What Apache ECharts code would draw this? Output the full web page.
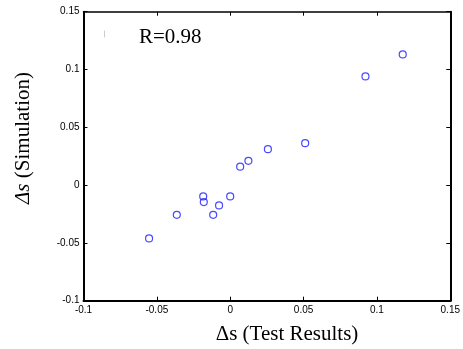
<!DOCTYPE html>
<html><head><meta charset="utf-8">
<script src="https://cdn.jsdelivr.net/npm/echarts@6/dist/echarts.min.js"></script>
<style>html,body{margin:0;padding:0;background:#fff}#c{width:463px;height:349px}</style>
</head><body><div id="c"></div>
<script>
const testResults = [-0.0553, -0.0364, -0.0184, -0.0180, -0.0116, -0.0076, 0.0000, 0.0068, 0.0124, 0.0257, 0.0511, 0.0922, 0.1176];
const simulation  = [-0.0461, -0.0257, -0.0098, -0.0147, -0.0257, -0.0176, -0.0098, 0.0159, 0.0210, 0.0311, 0.0363, 0.0940, 0.1130];
const xTicks = [-0.1, -0.05, 0, 0.05, 0.1, 0.15];
const yTicks = [-0.1, -0.05, 0, 0.05, 0.1, 0.15];
const annotation = 'R=0.98';

const fmt = v => { const r = Math.round(v*1000)/1000; return String(r); };
const chart = echarts.init(document.getElementById('c'), null, {renderer:'canvas'});
const axisBase = {
  min: xTicks[0], max: xTicks[xTicks.length-1], interval: 0.05,
  splitLine:{show:false},
  axisLine:{show:true, onZero:false, lineStyle:{color:'#000', width:2}},
  axisTick:{show:true, inside:true, length:4, lineStyle:{color:'#000', width:1}},
};
chart.setOption({
  animation:false,
  grid:{left:83.5, right:9, top:11.7, bottom:48.3, containLabel:false},
  xAxis:[
    Object.assign({}, axisBase, {type:'value', position:'bottom',
      axisLabel:{show:true, margin:5, fontFamily:'Liberation Sans', fontSize:10, color:'#000', formatter:fmt, showMinLabel:true, showMaxLabel:true}}),
    Object.assign({}, axisBase, {type:'value', position:'top', axisLabel:{show:false}, axisLine:{show:true, onZero:false, lineStyle:{color:'#000', width:1.5}}})
  ],
  yAxis:[
    Object.assign({}, axisBase, {type:'value', position:'left', min: yTicks[0], max: yTicks[yTicks.length-1],
      axisLabel:{show:true, margin:4, fontFamily:'Liberation Sans', fontSize:10, color:'#000', formatter:fmt, showMinLabel:true, showMaxLabel:true}}),
    Object.assign({}, axisBase, {type:'value', position:'right', min: yTicks[0], max: yTicks[yTicks.length-1], axisLabel:{show:false}})
  ],
  series:[{
    type:'scatter', xAxisIndex:0, yAxisIndex:0,
    data: testResults.map((x,i)=>[x, simulation[i]]),
    symbol:'circle', symbolSize:7,
    itemStyle:{color:'rgba(0,0,0,0)', borderColor:'#1c1cff', borderWidth:1.2}
  }],
  graphic:[
    {type:'text', left:139, top:27, style:{text:annotation, font:'21px "Liberation Serif"', fill:'#000'}},
    {type:'line', shape:{x1:104.5, y1:30.5, x2:104.5, y2:37.5}, style:{stroke:'#ccc', lineWidth:1}},
    {type:'text', x:287, y:334, style:{text:'Δs (Test Results)', font:'21px "Liberation Serif"', fill:'#000', align:'center', verticalAlign:'middle'}},
    {type:'text', x:23.5, y:138, rotation:Math.PI/2,
      style:{text:'{i|Δs} (Simulation)', font:'21px "Liberation Serif"', fill:'#000', align:'center', verticalAlign:'middle',
        rich:{i:{font:'italic 21px "Liberation Serif"', fill:'#000'}}}}
  ]
});
</script></body></html>
